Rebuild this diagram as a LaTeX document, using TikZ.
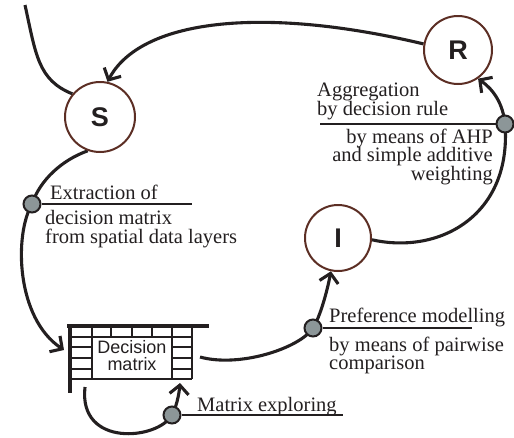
\documentclass[tikz,border=0pt]{standalone}
\usepackage{fontspec}
\setmainfont{Liberation Serif}
\setsansfont{Liberation Sans}
\usetikzlibrary{arrows.meta}
\definecolor{ring}{RGB}{92,46,36}
\definecolor{ink}{RGB}{35,31,32}
\definecolor{dotfill}{RGB}{140,150,152}
\pgfdeclarelayer{bg}
\pgfsetlayers{bg,main}
\begin{document}
\begin{tikzpicture}[x=1pt,y=-1pt,
  state/.style={circle,draw=ring,line width=2pt,minimum size=70pt,inner sep=0pt,text=ink,font=\fontsize{27}{30}\sffamily\bfseries},
  conn/.style={draw=ink,line width=3.1pt},
  arr/.style={-{Straight Barb[length=9pt,width=19pt]}},
  dot/.style={circle,draw=ink,fill=dotfill,line width=2pt,minimum size=17pt,inner sep=0pt},
  rulestyle/.style={draw=ink,line width=1.2pt},
  lbl/.style={inner sep=0pt,text=ink,font=\fontsize{20.5}{18}\rmfamily},
  gridline/.style={draw=ink,line width=1.1pt},
  heavy/.style={draw=ink,line width=4pt},
  mtext/.style={inner sep=0pt,text=ink,font=\fontsize{18}{17}\sffamily}
]
\useasboundingbox (0,0) rectangle (514,437);

% states
\node[state] (S) at (100,117) {S};
\node[state,minimum size=68pt] (R) at (458,50) {R};
\node[state,minimum size=66pt] (I) at (338,238) {I};

% decision matrix
\node[gridline,draw,minimum width=80pt,minimum height=42pt,inner sep=0pt] (M) at (132,358) {};
\node[mtext,anchor=base] (Mt1) at (132,353) {Decision};
\node[mtext,anchor=base] (Mt2) at (132,370) {matrix};
\draw[heavy] (67,326) -- (209,326);
\draw[heavy] (70,326) -- (70,393);
\foreach \xx in {92,111,132,152,172} { \draw[gridline] (\xx,326) -- (\xx,337); }
\draw[gridline] (192,326) -- (192,379);
\draw[gridline] (70,337) -- (192,337);
\foreach \yy in {347,358,369} {
  \draw[gridline] (70,\yy) -- (92,\yy);
  \draw[gridline] (172,\yy) -- (192,\yy);
}
\draw[gridline] (70,379) -- (192,379);

% dots
\node[dot] (d1) at (32,204) {};
\node[dot] (d2) at (505,124) {};
\node[dot] (d3) at (313,328) {};
\node[dot] (d4) at (172,415) {};

% free ends
\coordinate (in) at (25,5);
\coordinate (Tw) at (64,350);
\coordinate (Te) at (200,357);
\coordinate (Tb1) at (85,387);
\coordinate (Tb2) at (180,383);
\coordinate (r1) at (192,204);
\coordinate (r2) at (320,124);
\coordinate (r3) at (472,328);
\coordinate (r4) at (343,415);

% rules
\draw[rulestyle] (d1.east) -- (r1);
\draw[rulestyle] (d2.west) -- (r2);
\draw[rulestyle] (d3.east) -- (r3);
\draw[rulestyle] (d4.east) -- (r4);

% labels
\node[lbl,anchor=base west] (t1) at (50,199) {Extraction of};
\node[lbl,anchor=base west] (t2) at (45,224) {decision matrix};
\node[lbl,anchor=base west] (t3) at (45,243) {from spatial data layers};
\node[lbl,anchor=base west] (t4) at (317,96) {Aggregation};
\node[lbl,anchor=base west] (t5) at (317,115) {by decision rule};
\node[lbl,anchor=base east] (t6) at (493,143) {by means of AHP};
\node[lbl,anchor=base east] (t7) at (493,161) {and simple additive};
\node[lbl,anchor=base east] (t8) at (493,180) {weighting};
\node[lbl,anchor=base west] (t9) at (329,322) {Preference modelling};
\node[lbl,anchor=base west] (t10) at (329,351) {by means of pairwise};
\node[lbl,anchor=base west] (t11) at (329,369) {comparison};
\node[lbl,anchor=base west] (t12) at (197,411) {Matrix exploring};

% connectors
\begin{pgfonlayer}{bg}
\draw[conn] (in) .. controls (36,55) and (38,80) .. (S.140);
\draw[conn,arr] (R.170) .. controls (260,5) and (140,20) .. (S.78);
\draw[conn,arr] (S.250) .. controls (62,160) and (40,180) .. (d1.center) .. controls (14,235) and (16,318) .. (Tw);
\draw[conn,arr] (Te) .. controls (240,368) and (300,348) .. (d3.center) .. controls (320,317) and (327,292) .. (I.258);
\draw[conn,arr] (I.357) .. controls (440,255) and (512,215) .. (d2.center) .. controls (503,104) and (494,90) .. (R.305);
\draw[conn,arr] (Tb1) .. controls (78,448) and (158,440) .. (d4.center) .. controls (176,408) and (179,395) .. (Tb2);
\end{pgfonlayer}
\end{tikzpicture}
\end{document}
